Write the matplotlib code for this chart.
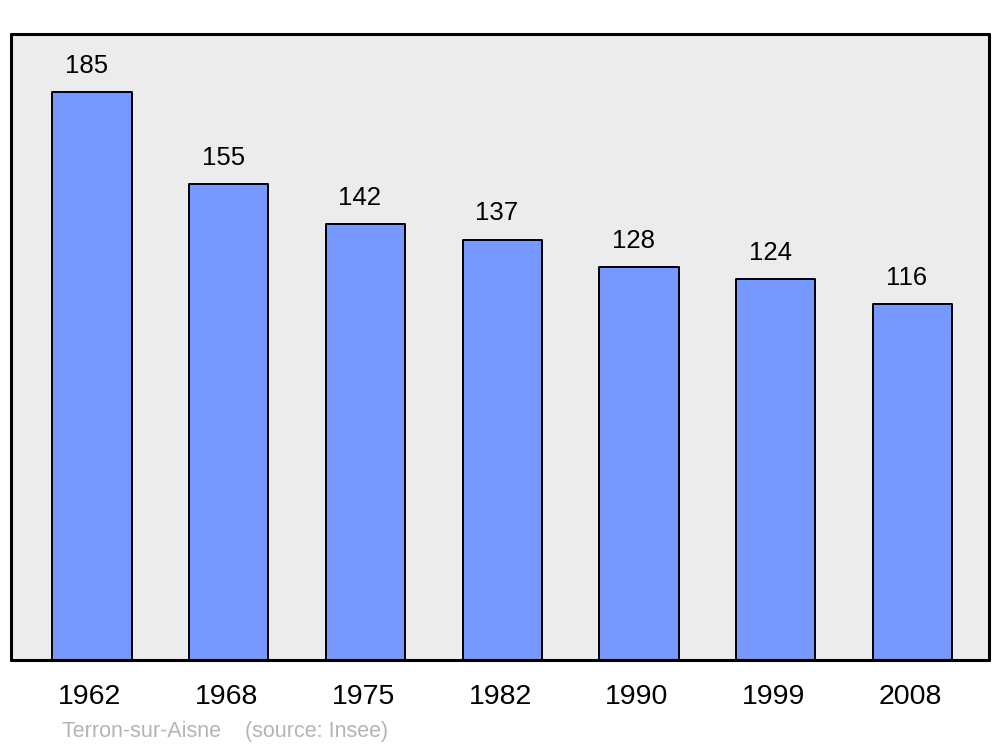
import matplotlib
matplotlib.use('Agg')
import numpy as np
import matplotlib.pyplot as plt
from matplotlib.transforms import offset_copy

plt.rcParams['font.family'] = ['Liberation Sans', 'DejaVu Sans']

# population data
years = ['1962', '1968', '1975', '1982', '1990', '1999', '2008']
population = [185, 155, 142, 137, 128, 124, 116]
commune = 'Terron-sur-Aisne'
source = '(source: Insee)'

fig = plt.figure(figsize=(10, 7.47), dpi=100)
ax = fig.add_axes([0.011, 0.1165, 0.978, 0.838])
ax.set_facecolor('#ececec')

x = np.arange(len(years))
bars = ax.bar(x, population, width=0.58, color='#7799ff',
              edgecolor='black', linewidth=1.4, joinstyle='round')

for xi, v in zip(x, population):
    ax.annotate(str(v), (xi, v), xytext=(-4, 14), textcoords='offset points',
                ha='center', va='baseline', fontsize=18.5)

ax.set_xlim(-0.592, 6.559)
ax.set_ylim(0, 204)
ax.set_xticks(x)
ax.set_xticklabels(years, fontsize=20.5)
ax.tick_params(axis='x', length=0, pad=17.5)
for lab in ax.get_xticklabels():
    lab.set_transform(offset_copy(lab.get_transform(), fig=fig, x=-2, y=0, units='dots'))
ax.set_yticks([])
for s in ax.spines.values():
    s.set_linewidth(2.2)
    s.set_capstyle('round')

fig.text(0.062, 0.0134, commune + '    ' + source, color='#b4b4b4',
         fontsize=15.5, va='baseline', ha='left')

fig.savefig('out.png', dpi=100)
